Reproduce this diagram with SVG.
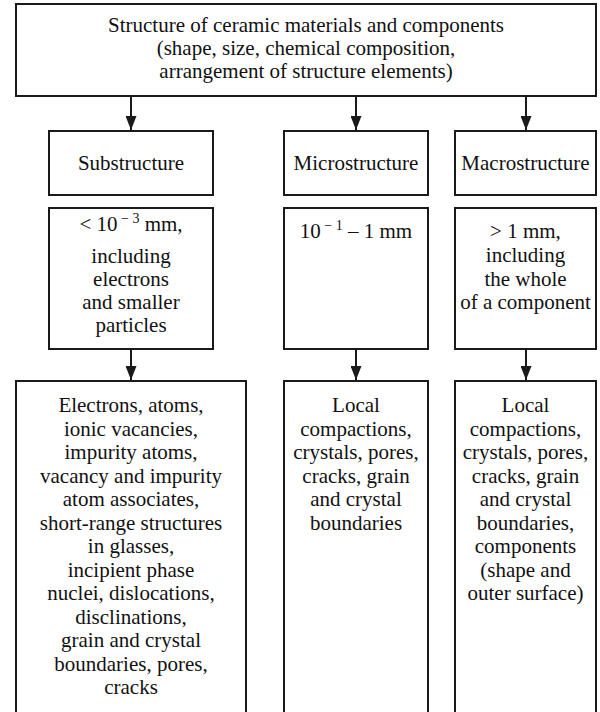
<svg xmlns="http://www.w3.org/2000/svg" width="600" height="712" viewBox="0 0 600 712" font-family="Liberation Serif, Times New Roman, serif">
<style>
.box{fill:#fff;stroke:#1a1a1a;stroke-width:2}
.t{font-family:"Liberation Serif",serif;font-size:21px;fill:#111;text-anchor:middle}
.sup{font-size:14px}
.c{stroke:#1a1a1a;stroke-width:2;fill:none}
</style>
<defs>
<marker id="ah" viewBox="0 0 14 11" refX="14" refY="5.5" markerWidth="14" markerHeight="11" markerUnits="userSpaceOnUse" orient="auto">
<path d="M0,0 L14,5.5 L0,11 z" fill="#1a1a1a"/>
</marker>
</defs>
<rect width="600" height="712" fill="#fff"/>
<g id="top">
<rect class="box" x="16" y="4" width="580" height="92"/>
<text class="t" x="306" y="32"><tspan>Structure of ceramic materials and components</tspan></text>
<text class="t" x="306" y="55"><tspan>(shape, size, chemical composition,</tspan></text>
<text class="t" x="306" y="78"><tspan>arrangement of structure elements)</tspan></text>
</g>
<g id="sub-label">
<rect class="box" x="49" y="131" width="164" height="64"/>
<text class="t" x="131" y="170">Substructure</text>
</g>
<g id="micro-label">
<rect class="box" x="284" y="131" width="144" height="64"/>
<text class="t" x="356" y="170">Microstructure</text>
</g>
<g id="macro-label">
<rect class="box" x="455" y="131" width="141" height="64"/>
<text class="t" x="525.5" y="170">Macrostructure</text>
</g>
<g id="sub-size">
<rect class="box" x="49" y="208" width="164" height="141"/>
<text class="t" x="131" y="231">&lt; 10<tspan class="sup" dy="-8"> − 3</tspan><tspan dy="8"> mm,</tspan></text>
<text class="t" x="131" y="263">including</text>
<text class="t" x="131" y="285.5">electrons</text>
<text class="t" x="131" y="309">and smaller</text>
<text class="t" x="131" y="332">particles</text>
</g>
<g id="micro-size">
<rect class="box" x="284" y="208" width="144" height="141"/>
<text class="t" x="356" y="238">10<tspan class="sup" dy="-8"> − 1</tspan><tspan dy="8"> – 1 mm</tspan></text>
</g>
<g id="macro-size">
<rect class="box" x="455" y="208" width="141" height="141"/>
<text class="t" x="525.5" y="238">&gt; 1 mm,</text>
<text class="t" x="525.5" y="262">including</text>
<text class="t" x="525.5" y="285.5">the whole</text>
<text class="t" x="525.5" y="309">of a component</text>
</g>
<g id="sub-detail">
<rect class="box" x="16" y="381" width="230" height="350"/>
<text class="t" x="131" y="412">Electrons, atoms,</text>
<text class="t" x="131" y="435.5">ionic vacancies,</text>
<text class="t" x="131" y="459">impurity atoms,</text>
<text class="t" x="131" y="482.5">vacancy and impurity</text>
<text class="t" x="131" y="506">atom associates,</text>
<text class="t" x="131" y="529.5">short-range structures</text>
<text class="t" x="131" y="553">in glasses,</text>
<text class="t" x="131" y="576.5">incipient phase</text>
<text class="t" x="131" y="600">nuclei, dislocations,</text>
<text class="t" x="131" y="623.5">disclinations,</text>
<text class="t" x="131" y="647">grain and crystal</text>
<text class="t" x="131" y="670.5">boundaries, pores,</text>
<text class="t" x="131" y="694">cracks</text>
</g>
<g id="micro-detail">
<rect class="box" x="284" y="381" width="144" height="350"/>
<text class="t" x="356" y="412">Local</text>
<text class="t" x="356" y="435.5">compactions,</text>
<text class="t" x="356" y="459">crystals, pores,</text>
<text class="t" x="356" y="482.5">cracks, grain</text>
<text class="t" x="356" y="506">and crystal</text>
<text class="t" x="356" y="529.5">boundaries</text>
</g>
<g id="macro-detail">
<rect class="box" x="455" y="381" width="141" height="350"/>
<text class="t" x="525.5" y="412">Local</text>
<text class="t" x="525.5" y="435.5">compactions,</text>
<text class="t" x="525.5" y="459">crystals, pores,</text>
<text class="t" x="525.5" y="482.5">cracks, grain</text>
<text class="t" x="525.5" y="506">and crystal</text>
<text class="t" x="525.5" y="529.5">boundaries,</text>
<text class="t" x="525.5" y="553">components</text>
<text class="t" x="525.5" y="576.5">(shape and</text>
<text class="t" x="525.5" y="600">outer surface)</text>
</g>
<g id="connectors">
<line class="c" x1="131" y1="97" x2="131" y2="130" marker-end="url(#ah)"/>
<line class="c" x1="356" y1="97" x2="356" y2="130" marker-end="url(#ah)"/>
<line class="c" x1="526" y1="97" x2="526" y2="130" marker-end="url(#ah)"/>
<line class="c" x1="131" y1="350" x2="131" y2="380" marker-end="url(#ah)"/>
<line class="c" x1="356" y1="350" x2="356" y2="380" marker-end="url(#ah)"/>
<line class="c" x1="526" y1="350" x2="526" y2="380" marker-end="url(#ah)"/>
</g>
</svg>
